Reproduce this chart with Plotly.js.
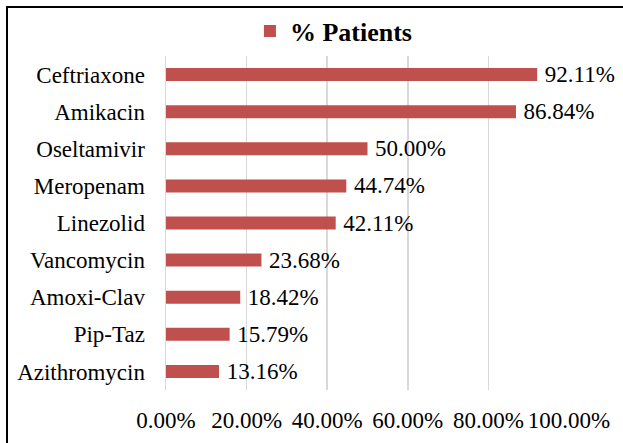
<!DOCTYPE html>
<html>
<head>
<meta charset="utf-8">
<script src="https://cdn.plot.ly/plotly-3.0.1.min.js"></script>
<style>
html,body{margin:0;padding:0;background:#fff;}
#wrap{position:relative;width:623px;height:443px;overflow:hidden;}
#chart{position:absolute;left:0;top:0;width:623px;height:443px;}
#frame{position:absolute;left:6px;top:6px;width:700px;height:500px;border-top:2.5px solid #000;border-left:2.5px solid #000;pointer-events:none;}
</style>
</head>
<body>
<div id="wrap"><div id="chart"></div><div id="frame"></div></div>
<script>
const drugs = ["Ceftriaxone","Amikacin","Oseltamivir","Meropenam","Linezolid","Vancomycin","Amoxi-Clav","Pip-Taz","Azithromycin"];
const patientShare = [0.9211,0.8684,0.5000,0.4474,0.4211,0.2368,0.1842,0.1579,0.1316];
const seriesName = "% Patients";
const xTicks = [0,0.2,0.4,0.6,0.8,1.0];
const xTickLabels = ["0.00%","20.00%","40.00%","60.00%","80.00%","100.00%"];

const serif = "Times New Roman, Liberation Serif, DejaVu Serif, serif";
const trace = {
  type: "bar",
  orientation: "h",
  x: patientShare,
  y: drugs,
  name: seriesName,
  marker: {color: "#C0504D"},
  text: patientShare.map(v => "\u2009" + (v*100).toFixed(2) + "%"),
  textposition: "outside",
  constraintext: "none",
  textfont: {family: serif, size: 23, color: "#000"},
  cliponaxis: false,
  hoverinfo: "none"
};
const layout = {
  width: 623, height: 443,
  margin: {l: 166, r: 54, t: 56, b: 53},
  paper_bgcolor: "#fff", plot_bgcolor: "#fff",
  bargap: 0.65,
  font: {family: serif, size: 23, color: "#000"},
  showlegend: true,
  legend: {
    x: 0.536, xref: "container", xanchor: "center",
    y: 0.93, yref: "container", yanchor: "middle",
    orientation: "h",
    font: {family: serif, size: 26, color: "#000", weight: "bold"}
  },
  xaxis: {
    range: [0, 1.0],
    tickvals: xTicks, ticktext: xTickLabels,
    showgrid: true, gridcolor: "#D9D9D9", gridwidth: 1.5,
    zeroline: false, showline: false, ticks: "",
    ticklabelstandoff: 14,
    fixedrange: true
  },
  yaxis: {
    type: "category",
    autorange: "reversed",
    showgrid: false, zeroline: false,
    showline: true, linecolor: "#D9D9D9", linewidth: 1.5,
    ticks: "", ticklabelstandoff: 15,
    fixedrange: true
  }
};
Plotly.newPlot("chart", [trace], layout, {staticPlot: true, displayModeBar: false});
</script>
</body>
</html>
